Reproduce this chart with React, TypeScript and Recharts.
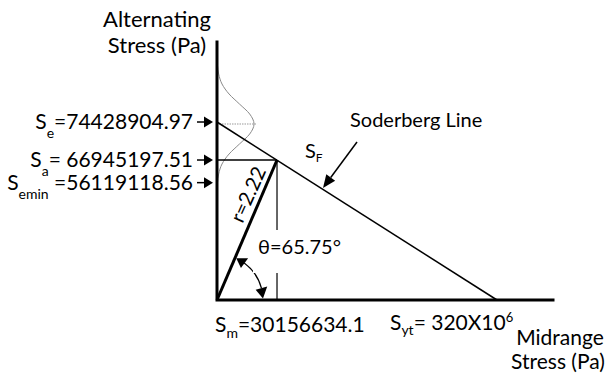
import React from 'react';
import { ComposedChart, Line, Scatter, XAxis, YAxis } from 'recharts';

const FONT = 'Lato, "Open Sans", sans-serif';
const INK = '#000';

// alternating stress levels marked on the vertical axis (Pa)
const altLevels = ['e', 'a', 'emin'];
const altValues = [74428904.97, 66945197.51, 56119118.56];
const altEquals = ['=', '= ', ' ='];

// midrange stress levels marked on the horizontal axis (Pa)
const midLevels = ['m', 'yt'];
const midValues = [30156634.1, 320e6];

// load line: r = Sa / Sm and its angle from the midrange axis (deg)
const LOAD_RATIO = 2.22;
const LOAD_ANGLE = 65.75;

// scatter of the endurance limit, drawn sideways (std devs, density)
const bellZ = [2.95, 2.5, 2, 1.5, 1, 0.5, 0, -0.5, -1, -1.5, -2, -2.5, -2.95];
const bellDensity = [0.005, 0.018, 0.054, 0.13, 0.242, 0.352, 0.399, 0.352, 0.242, 0.13, 0.054, 0.018, 0.005];

const [SE, SA] = altValues;
const [SM, SYT] = midValues;

// the sketch is not to scale: both axes are stretched/compressed piecewise
const X_END = 400e6;
const Y_END = 110e6;

function brokenScale(breaks: number[], stops: number[]) {
  let range = [0, 1];
  const scale: any = (v: number) => {
    let i = 1;
    while (i < breaks.length - 1 && v > breaks[i]) i++;
    const t = (v - breaks[i - 1]) / (breaks[i] - breaks[i - 1]);
    const f = stops[i - 1] + t * (stops[i] - stops[i - 1]);
    return range[0] + f * (range[1] - range[0]);
  };
  scale.domain = (d?: number[]) => (d === undefined ? [breaks[0], breaks[breaks.length - 1]] : scale);
  scale.range = (r?: number[]) => {
    if (r === undefined) return range.slice();
    range = r.slice();
    return scale;
  };
  scale.copy = () => brokenScale(breaks, stops).range(range);
  scale.ticks = () => breaks.slice();
  scale.tickFormat = () => (v: number) => String(v);
  scale.nice = () => scale;
  return scale;
}

const xScale = brokenScale([0, SM, SYT, X_END], [0, 0.1786, 0.8333, 1]);
const yScale = brokenScale([0, SA, SE, Y_END], [0, 0.5426, 0.6899, 1]);

const axesPath = [
  { x: 0, y: Y_END },
  { x: 0, y: 0 },
  { x: X_END, y: 0 },
];
const soderberg = [
  { x: 0, y: SE },
  { x: SYT, y: 0 },
];
const saLine = [
  { x: 0, y: SA },
  { x: SM, y: SA },
];
const dropLine = [
  { x: SM, y: SA },
  { x: SM, y: 0 },
];
const loadLine = [
  { x: 0, y: 0 },
  { x: SM, y: SA },
];
const bell = bellZ.map((z, i) => ({ d: bellDensity[i], z }));
const bellMean = [
  { d: 0, z: 0 },
  { d: 0.43, z: 0 },
];

const altMarks = altLevels.map((k, i) => ({ x: 0, y: altValues[i], k, eq: altEquals[i] }));
const midMarks = midLevels.map((k, i) => ({ x: midValues[i], y: 0, k }));
const origin = [{ x: 0, y: 0 }];
const seAnchor = [{ x: 0, y: SE }];
const axisEnds = [
  { x: 0, y: Y_END, k: 'y' },
  { x: X_END, y: 0, k: 'x' },
];

const txt = { fontFamily: FONT, fill: INK, style: { whiteSpace: 'pre' as const } };

const AltArrow = ({ cx, cy, payload }: any) => {
  const tip = cx - 4;
  return (
    <g>
      <line x1={tip - 16} y1={cy} x2={tip - 8} y2={cy} stroke={INK} strokeWidth={1.5} />
      <path d={`M${tip},${cy}L${tip - 9},${cy - 5.5}L${tip - 9},${cy + 5.5}Z`} fill={INK} />
      <text x={tip - 20} y={cy + 7} textAnchor="end" fontSize={21} {...txt}>
        S
        <tspan dy={9} fontSize={14}>{payload.k}</tspan>
        <tspan dy={-9}>{payload.eq + payload.y}</tspan>
      </text>
    </g>
  );
};

const MidLabel = ({ cx, cy, payload }: any) => {
  if (payload.k === 'm') {
    return (
      <text x={cx - 62} y={cy + 32} fontSize={21} {...txt}>
        S
        <tspan dy={6} fontSize={14}>m</tspan>
        <tspan dy={-6}>{'=' + payload.x}</tspan>
      </text>
    );
  }
  const exp = 6;
  return (
    <text x={cx - 107} y={cy + 30} fontSize={21} {...txt}>
      S
      <tspan dy={5} fontSize={14}>yt</tspan>
      <tspan dy={-5}>{'= ' + payload.x / 10 ** exp + 'X10'}</tspan>
      <tspan dy={-8} fontSize={13}>{exp}</tspan>
    </text>
  );
};

const AngleMark = ({ cx, cy }: any) => {
  const R = 46;
  const pt = (deg: number, r = R) => [
    cx + r * Math.cos((deg * Math.PI) / 180),
    cy - r * Math.sin((deg * Math.PI) / 180),
  ];
  const head = (tip: number, base: number) => {
    const [tx, ty] = pt(tip);
    const [ox, oy] = pt(base, R + 6);
    const [ix, iy] = pt(base, R - 6);
    return `M${tx},${ty}L${ox},${oy}L${ix},${iy}Z`;
  };
  const [ax, ay] = pt(15);
  const [bx, by] = pt(LOAD_ANGLE - 12);
  const rad = (LOAD_ANGLE * Math.PI) / 180;
  const ux = Math.cos(rad);
  const uy = -Math.sin(rad);
  const lx = cx + 109 * ux + 15 * uy;
  const ly = cy + 109 * uy - 15 * ux;
  return (
    <g>
      <path d={`M${ax},${ay}A${R},${R} 0 0 0 ${bx},${by}`} fill="none" stroke={INK} strokeWidth={1.3} />
      <path d={head(2, 15)} fill={INK} />
      <path d={head(LOAD_ANGLE - 0.5, LOAD_ANGLE - 12.5)} fill={INK} />
      <text
        x={lx}
        y={ly}
        dy="0.35em"
        textAnchor="middle"
        fontSize={20}
        transform={`rotate(${-LOAD_ANGLE} ${lx} ${ly})`}
        {...txt}
      >
        {`r=${LOAD_RATIO}`}
      </text>
      <rect x={cx + 36} y={cy - 70} width={88} height={43} fill="#fff" />
      <text x={cx + 41} y={cy - 46} fontSize={20} {...txt}>
        {`θ=${LOAD_ANGLE}°`}
      </text>
    </g>
  );
};

const SoderbergCallout = ({ cx, cy }: any) => {
  const tx = cx + 106;
  const ty = cy + 66;
  const sx = cx + 140;
  const sy = cy + 20;
  const len = Math.hypot(sx - tx, sy - ty);
  const ux = (sx - tx) / len;
  const uy = (sy - ty) / len;
  const bx = tx + ux * 13;
  const by = ty + uy * 13;
  return (
    <g>
      <line x1={sx} y1={sy} x2={bx} y2={by} stroke={INK} strokeWidth={1.5} />
      <path d={`M${tx},${ty}L${bx - uy * 5.5},${by + ux * 5.5}L${bx + uy * 5.5},${by - ux * 5.5}Z`} fill={INK} />
      <text x={cx + 133} y={cy + 5} fontSize={20} {...txt}>
        Soderberg Line
      </text>
      <text x={cx + 88} y={cy + 36} fontSize={20} {...txt}>
        S<tspan dy={4} fontSize={12}>F</tspan>
      </text>
    </g>
  );
};

const AxisTitle = ({ cx, cy, payload }: any) => {
  if (payload.k === 'y') {
    return (
      <text textAnchor="middle" fontSize={22} {...txt}>
        <tspan x={cx - 60} y={cy - 15}>Alternating</tspan>
        <tspan x={cx - 60} y={cy + 11}>Stress (Pa)</tspan>
      </text>
    );
  }
  return (
    <g>
      <text x={cx + 7} y={cy + 45} textAnchor="middle" fontSize={21} {...txt}>
        Midrange
      </text>
      <text x={cx + 5} y={cy + 69} textAnchor="middle" fontSize={21} {...txt}>
        Stress (Pa)
      </text>
    </g>
  );
};

export default function App() {
  return (
    <div style={{ position: 'absolute', left: 0, top: 0, background: '#fff' }}>
      <ComposedChart width={611} height={376} margin={{ top: 42, right: 58, bottom: 76, left: 217 }}>
        <XAxis dataKey="x" type="number" scale={xScale} domain={[0, X_END]} hide />
        <YAxis type="number" scale={yScale} domain={[0, Y_END]} hide />
        <XAxis xAxisId="bell" dataKey="d" type="number" domain={[0, 3.62]} hide />
        <YAxis yAxisId="bell" type="number" domain={[-8.8, 4.1]} hide />

        <Line xAxisId="bell" yAxisId="bell" data={bell} dataKey="z" type="monotoneY" stroke="#8a8a8a" strokeWidth={1} dot={false} activeDot={false} isAnimationActive={false} />
        <Line xAxisId="bell" yAxisId="bell" data={bellMean} dataKey="z" stroke="#9a9a9a" strokeWidth={1.2} strokeDasharray="1.5 1" dot={false} activeDot={false} isAnimationActive={false} />

        <Line data={soderberg} dataKey="y" stroke={INK} strokeWidth={1.5} dot={false} activeDot={false} isAnimationActive={false} />
        <Line data={saLine} dataKey="y" stroke={INK} strokeWidth={1.6} dot={false} activeDot={false} isAnimationActive={false} />
        <Line data={dropLine} dataKey="y" stroke={INK} strokeWidth={1.2} dot={false} activeDot={false} isAnimationActive={false} />
        <Line data={loadLine} dataKey="y" stroke={INK} strokeWidth={3} dot={false} activeDot={false} isAnimationActive={false} />
        <Line data={axesPath} dataKey="y" stroke={INK} strokeWidth={3} strokeLinejoin="miter" strokeLinecap="square" dot={false} activeDot={false} isAnimationActive={false} />

        <Scatter data={altMarks} dataKey="y" shape={AltArrow} isAnimationActive={false} />
        <Scatter data={midMarks} dataKey="y" shape={MidLabel} isAnimationActive={false} />
        <Scatter data={origin} dataKey="y" shape={AngleMark} isAnimationActive={false} />
        <Scatter data={seAnchor} dataKey="y" shape={SoderbergCallout} isAnimationActive={false} />
        <Scatter data={axisEnds} dataKey="y" shape={AxisTitle} isAnimationActive={false} />
      </ComposedChart>
    </div>
  );
}
